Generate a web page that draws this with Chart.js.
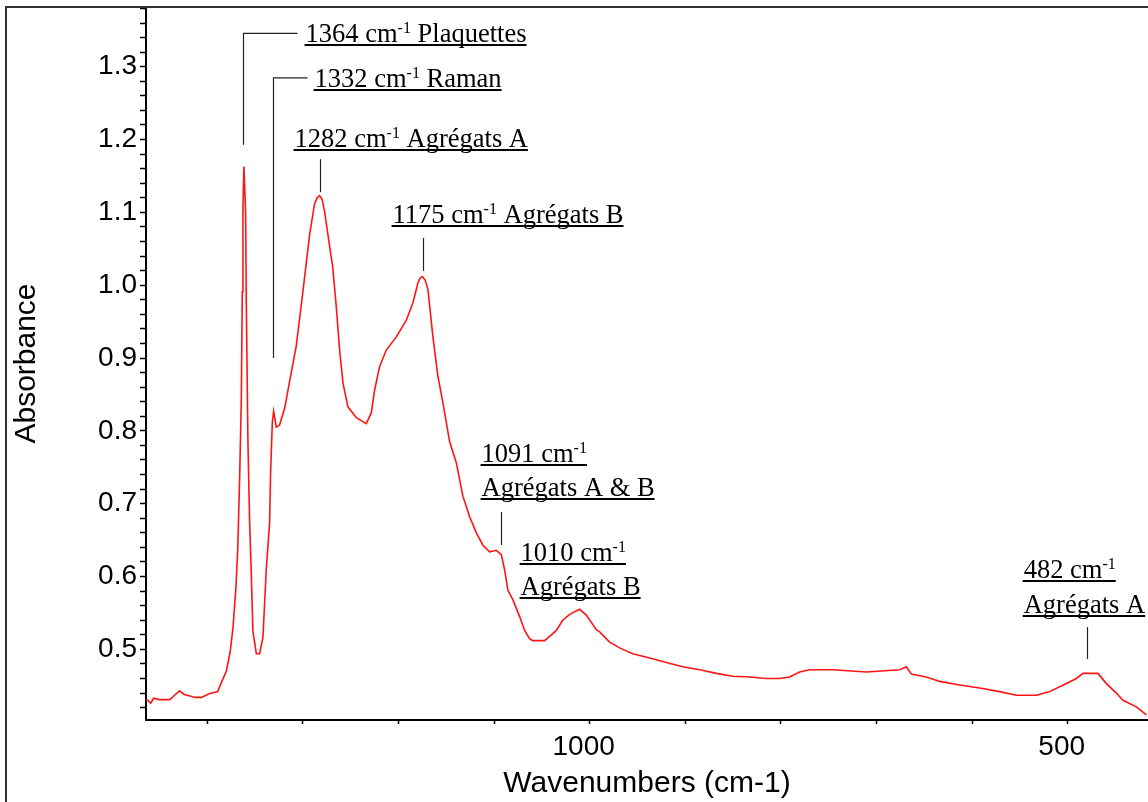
<!DOCTYPE html>
<html>
<head>
<meta charset="utf-8">
<script src="https://cdn.jsdelivr.net/npm/chart.js@4.4.1/dist/chart.umd.min.js"></script>
<style>
  html, body { margin: 0; padding: 0; background: #fff; }
  #wrap { width: 1148px; height: 802px; }
</style>
</head>
<body>
<div id="wrap"><canvas id="spectrum" width="1148" height="802"></canvas></div>
<script>
// FTIR spectrum (wavenumber in cm-1, absorbance)
const wavenumbers = [
    1464, 1462, 1459, 1456, 1450, 1444, 1439, 1435, 1429, 1424, 1418, 1413, 1406, 1398, 1389, 1385, 1380, 1376, 1373, 1370,
    1368, 1366, 1364.3, 1363.3, 1362.6, 1361.6, 1359.8, 1359.1, 1357.4, 1355.6, 1353.9, 1352.2, 1348.6, 1345.2, 1341.7, 1338.2,
    1334.7, 1333.7, 1331.9, 1330.5, 1327.7, 1324.3, 1319, 1313.8, 1306.8, 1299.9, 1292.9, 1287.7, 1285, 1282.4, 1279.8, 1277.2, 1272,
    1268.8, 1265, 1261.5, 1258, 1252.8, 1244, 1233.6, 1228.3, 1224.9, 1219.7, 1212.7, 1202.2, 1191.7, 1184.8, 1179.6, 1177.3, 1175,
    1172, 1169.1, 1163.9, 1158.7, 1153.4, 1146.4, 1139.4, 1132.5, 1125.5, 1118.5, 1111.6, 1104.6, 1097.6, 1092.4, 1088.9, 1085.5,
    1080.2, 1073.2, 1068, 1063, 1059.6, 1047.1, 1040, 1034.8, 1028.2, 1020.9, 1010.5, 1003.5, 993, 989.5, 979.1, 968.6, 955,
    937.2, 919.8, 902.7, 884.9, 867.5, 850.4, 832.6, 815.2, 801.3, 790.8, 780.3, 769.9, 745.8, 710.6, 675.7, 668.7, 663.5,
    647.8, 633.9, 613, 592.1, 571.1, 553.7, 532.7, 518.8, 501.4, 490.9, 484, 468.3, 459.5, 449.1, 442.2, 428.2, 417.7
];
const absorbance = [
    0.431, 0.430, 0.426, 0.433, 0.431, 0.431, 0.431, 0.436, 0.443, 0.438, 0.436, 0.434, 0.434, 0.439, 0.442, 0.455, 0.470, 0.496, 0.530, 0.584,
    0.639, 0.739, 0.845, 0.991, 1.104, 1.163, 1.100, 0.977, 0.785, 0.674, 0.605, 0.525, 0.494, 0.494, 0.516, 0.610,
    0.674, 0.742, 0.811, 0.827, 0.805, 0.808, 0.831, 0.868, 0.917, 0.991, 1.069, 1.112, 1.120, 1.123, 1.118, 1.101, 1.054,
    1.026, 0.971, 0.911, 0.866, 0.833, 0.818, 0.810, 0.825, 0.856, 0.888, 0.911, 0.929, 0.952, 0.976, 1.003, 1.010, 1.012,
    1.007, 0.994, 0.929, 0.875, 0.838, 0.785, 0.756, 0.710, 0.682, 0.660, 0.643, 0.634, 0.636, 0.630, 0.609, 0.581,
    0.568, 0.545, 0.526, 0.515, 0.512, 0.512, 0.520, 0.526, 0.540, 0.548, 0.555, 0.547, 0.527, 0.524, 0.510, 0.502, 0.494,
    0.488, 0.482, 0.476, 0.472, 0.467, 0.463, 0.462, 0.460, 0.460, 0.462, 0.469, 0.472, 0.472, 0.469, 0.472, 0.476, 0.466,
    0.462, 0.456, 0.451, 0.447, 0.442, 0.437, 0.437, 0.442, 0.453, 0.460, 0.467, 0.467, 0.453, 0.440, 0.430, 0.421, 0.410
];
const xLabelled = [1000, 500];
const yLabelled = [0.5, 0.6, 0.7, 0.8, 0.9, 1.0, 1.1, 1.2, 1.3];

// peak labels: text anchor (wavenumber, absorbance of first baseline), lines as [text, superscript, text]
const peakNotes = [
    { x: 1297.1, y: 1.3333, lines: [['1364 cm', '-1', ' Plaquettes']], leader: [[1363, 1.1927], [1363, 1.3458], [1306.5, 1.3458]] },
    { x: 1287.7, y: 1.2720, lines: [['1332 cm', '-1', ' Raman']], leader: [[1331.6, 0.9001], [1331.6, 1.2847], [1296.0, 1.2847]] },
    { x: 1308.6, y: 1.1904, lines: [['1282 cm', '-1', ' Agrégats A']], leader: [[1282.4, 1.1731], [1282.4, 1.1278]] },
    { x: 1206.1, y: 1.0852, lines: [['1175 cm', '-1', ' Agrégats B']], leader: [[1174.7, 1.0650], [1174.7, 1.0197]] },
    { x: 1113.0, y: 0.7577, lines: [['1091 cm', '-1', ''], ['Agrégats A & B', '', '']], leader: [[1093.1, 0.6886], [1093.1, 0.6433]] },
    { x: 1072.2, y: 0.6217, lines: [['1010 cm', '-1', ''], ['Agrégats B', '', '']], leader: [] },
    { x: 546.0, y: 0.5975, lines: [['482 cm', '-1', ''], ['Agrégats A', '', '']], leader: [[480.1, 0.5306], [480.1, 0.4867]] }
];

const noteFont = '"Liberation Serif", "Times New Roman", serif';

const notesPlugin = {
    id: 'peakNotes',
    afterDatasetsDraw(chart) {
        const ctx = chart.ctx;
        const xs = chart.scales.x;
        const ys = chart.scales.y;
        ctx.save();
        // leader lines
        ctx.strokeStyle = '#222';
        ctx.lineWidth = 1.2;
        peakNotes.forEach(n => {
            if (!n.leader.length) return;
            ctx.beginPath();
            n.leader.forEach((p, i) => {
                const px = Math.round(xs.getPixelForValue(p[0])) + 0.5;
                const py = ys.getPixelForValue(p[1]);
                if (i === 0) ctx.moveTo(px, py); else ctx.lineTo(px, py);
            });
            ctx.stroke();
        });
        // texts, underlined
        ctx.fillStyle = '#000';
        ctx.textBaseline = 'alphabetic';
        ctx.textAlign = 'left';
        peakNotes.forEach(n => {
            const x0 = xs.getPixelForValue(n.x);
            let base = ys.getPixelForValue(n.y);
            n.lines.forEach(parts => {
                let x = x0;
                ctx.font = '26.5px ' + noteFont;
                ctx.fillText(parts[0], x, base);
                x += ctx.measureText(parts[0]).width;
                if (parts[1]) {
                    ctx.font = '16px ' + noteFont;
                    ctx.fillText(parts[1], x, base - 9);
                    x += ctx.measureText(parts[1]).width;
                }
                if (parts[2]) {
                    ctx.font = '26.5px ' + noteFont;
                    ctx.fillText(parts[2], x, base);
                    x += ctx.measureText(parts[2]).width;
                }
                ctx.fillRect(x0 - 1, Math.round(base + 2), x - x0 + 1, 2);
                base += 34.5;
            });
        });
        ctx.restore();
    },
    afterDraw(chart) {
        const ctx = chart.ctx;
        ctx.save();
        ctx.strokeStyle = '#333';
        ctx.lineWidth = 2;
        ctx.beginPath();
        ctx.moveTo(6, 802);
        ctx.lineTo(6, 7);
        ctx.lineTo(1148, 7);
        ctx.stroke();
        ctx.restore();
    }
};

const tickFont = { family: '"Liberation Sans", Arial, sans-serif', size: 28 };
const titleFont = { family: '"Liberation Sans", Arial, sans-serif', size: 30 };

new Chart(document.getElementById('spectrum'), {
    type: 'line',
    data: {
        datasets: [{
            data: wavenumbers.map((w, i) => ({ x: w, y: absorbance[i] })),
            borderColor: 'rgb(255, 20, 20)',
            borderWidth: 1.6,
            pointRadius: 0,
            tension: 0,
            fill: false
        }]
    },
    options: {
        responsive: false,
        animation: false,
        devicePixelRatio: 1,
        layout: { padding: { top: 7, left: 6, right: 0, bottom: 0 } },
        plugins: { legend: { display: false }, tooltip: { enabled: false } },
        scales: {
            x: {
                type: 'linear',
                reverse: true,
                min: 416,
                max: 1464,
                border: { display: true, color: '#000', width: 2 },
                grid: { drawOnChartArea: false, drawTicks: true, tickLength: 4, tickColor: '#000', tickWidth: 1.5 },
                ticks: {
                    stepSize: 100,
                    includeBounds: false,
                    autoSkip: false,
                    maxRotation: 0,
                    padding: 6,
                    labelOffset: -6,
                    color: '#000',
                    font: tickFont,
                    callback: v => xLabelled.includes(v) ? String(v) : ''
                },
                title: { display: true, text: 'Wavenumbers (cm-1)', color: '#000', font: titleFont, padding: { top: 0, bottom: 0 } },
                afterFit(scale) {
                    scale.height = 82;
                    scale.paddingLeft = 0;
                    scale.paddingRight = 0;
                }
            },
            y: {
                min: 0.403,
                max: 1.382,
                border: { display: true, color: '#000', width: 2 },
                grid: { drawOnChartArea: false, drawTicks: true, tickLength: 6, tickColor: '#000', tickWidth: 1.5 },
                ticks: {
                    stepSize: 0.02,
                    includeBounds: false,
                    autoSkip: false,
                    padding: 3,
                    color: '#000',
                    font: tickFont,
                    callback: v => {
                        const hit = yLabelled.find(t => Math.abs(t - v) < 1e-6);
                        return hit !== undefined ? hit.toFixed(1) : '';
                    }
                },
                title: { display: true, text: 'Absorbance', color: '#000', font: titleFont, padding: { top: 3, bottom: 0 } },
                afterFit(scale) {
                    scale.width = 140;
                    scale.paddingTop = 0;
                    scale.paddingBottom = 0;
                }
            }
        }
    },
    plugins: [notesPlugin]
});
</script>
</body>
</html>
